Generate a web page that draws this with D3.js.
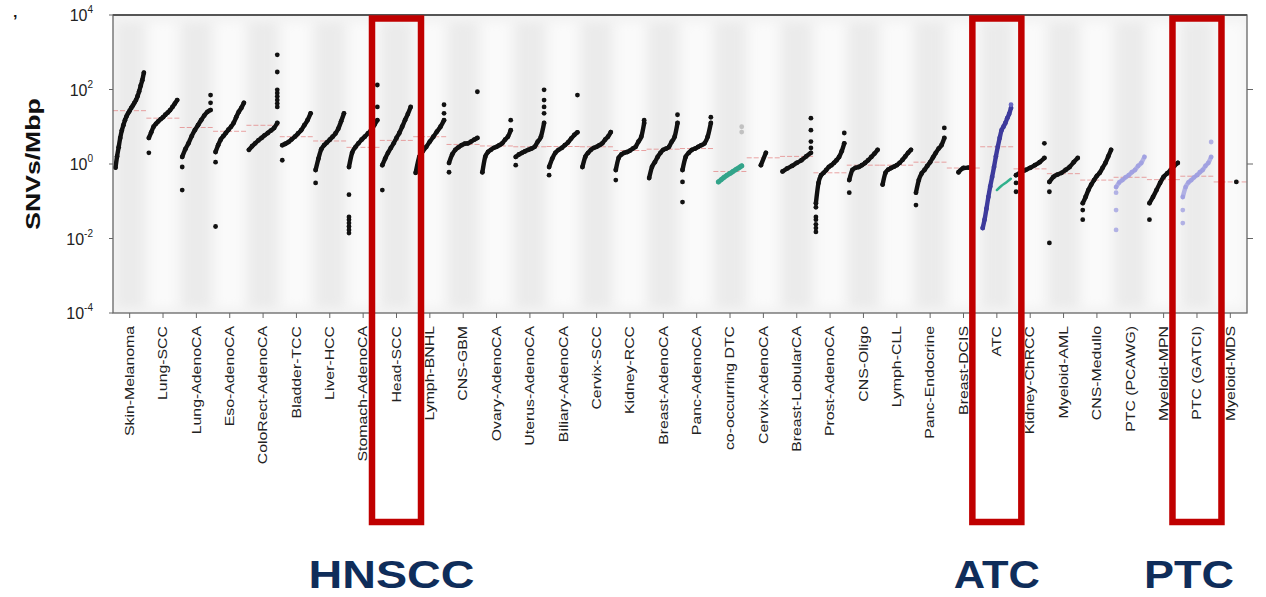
<!DOCTYPE html>
<html>
<head>
<meta charset="utf-8">
<script src="https://cdn.jsdelivr.net/npm/d3@7/dist/d3.min.js"></script>
<style>
  html, body { margin: 0; padding: 0; background: #ffffff; }
  svg { display: block; }
</style>
</head>
<body>
<svg id="chart" width="1266" height="597"></svg>
<script>
// Tumour types along the x axis
const categories = [
  "Skin-Melanoma", "Lung-SCC", "Lung-AdenoCA", "Eso-AdenoCA", "ColoRect-AdenoCA",
  "Bladder-TCC", "Liver-HCC", "Stomach-AdenoCA", "Head-SCC", "Lymph-BNHL",
  "CNS-GBM", "Ovary-AdenoCA", "Uterus-AdenoCA", "Biliary-AdenoCA", "Cervix-SCC",
  "Kidney-RCC", "Breast-AdenoCA", "Panc-AdenoCA", "co-occurring DTC", "Cervix-AdenoCA",
  "Breast-LobularCA", "Prost-AdenoCA", "CNS-Oligo", "Lymph-CLL", "Panc-Endocrine",
  "Breast-DCIS", "ATC", "Kidney-ChRCC", "Myeloid-AML", "CNS-Medullo",
  "PTC (PCAWG)", "Myeloid-MPN", "PTC (GATCI)", "Myeloid-MDS"
];

// Sorted per-sample SNV burden (SNVs/Mbp), the main run of each tumour type
const curveValues = [
  [0.8, 1.6, 2.8, 5.0, 7.9, 11, 15, 19, 23, 27, 32, 37, 44, 52, 66, 89, 126, 178, 282],
  [5.0, 7.1, 10, 12, 14, 16, 18, 21, 24, 28, 34, 42, 52],
  [1.55, 2.5, 3.6, 5.6, 8.1, 11, 15, 20, 25, 28],
  [2.1, 3.2, 4.5, 5.6, 6.8, 8.3, 10, 12.6, 18, 25, 32, 44],
  [2.4, 3.0, 3.6, 4.3, 5.0, 5.9, 6.8, 7.9, 9.3, 12.6],
  [3.2, 3.5, 3.9, 4.6, 5.4, 6.6, 8.1, 11, 15, 23],
  [0.69, 1.4, 2.5, 3.2, 3.8, 4.5, 5.4, 6.6, 8.9, 14, 23],
  [0.83, 2.0, 2.8, 3.6, 4.5, 5.4, 6.6, 8.1, 11, 15],
  [0.93, 1.4, 2.0, 2.7, 3.6, 5.0, 6.8, 10, 15, 22, 34],
  [0.58, 1.55, 2.2, 2.9, 4.0, 5.4, 7.4, 10, 15],
  [1.07, 1.8, 2.4, 2.8, 3.2, 3.5, 3.6, 4.0, 4.5, 5.0],
  [0.6, 1.55, 2.1, 2.4, 2.7, 2.9, 3.2, 3.6, 4.5, 5.4, 8.1],
  [1.55, 1.8, 2.0, 2.2, 2.4, 2.6, 2.9, 4.0, 5.4, 12.6],
  [0.83, 1.4, 2.0, 2.4, 2.7, 3.2, 3.8, 4.8, 6.0, 7.1],
  [0.83, 1.55, 2.0, 2.4, 2.7, 2.9, 3.2, 3.6, 4.5, 5.4, 7.2],
  [0.69, 1.45, 1.8, 2.0, 2.1, 2.3, 2.6, 2.9, 4.0, 5.4, 12.6],
  [0.42, 0.83, 1.12, 1.55, 2.0, 2.4, 2.6, 2.9, 4.0, 5.4, 12.6],
  [0.69, 1.55, 2.0, 2.4, 2.6, 2.9, 3.2, 3.6, 5.4, 12.6],
  [0.33, 0.38, 0.44, 0.5, 0.56, 0.63, 0.71, 0.79, 0.89],
  [0.93, 2.0],
  [0.63, 0.76, 0.89, 1.07, 1.26, 1.6, 2.0],
  [0.089, 0.31, 0.5, 0.58, 0.69, 0.83, 0.93, 1.07, 1.26, 1.55, 2.2, 3.6],
  [0.37, 0.69, 0.79, 0.83, 0.93, 1.07, 1.26, 1.55, 1.9, 2.4],
  [0.28, 0.58, 0.71, 0.78, 0.85, 0.93, 1.07, 1.29, 1.6, 2.0, 2.4],
  [0.17, 0.37, 0.56, 0.69, 0.89, 1.12, 1.5, 2.0, 2.6, 3.2, 5.0],
  [0.6, 0.78, 0.8],
  [0.019, 0.032, 0.063, 0.13, 0.25, 0.45, 0.83, 1.6, 2.9, 5.0, 8.1, 10, 12.6, 17, 22, 32],
  [0.5, 0.6, 0.69, 0.79, 0.93, 1.12, 1.45],
  [0.33, 0.45, 0.52, 0.58, 0.69, 0.83, 1.12, 1.45],
  [0.089, 0.13, 0.2, 0.28, 0.37, 0.48, 0.58, 0.79, 1.07, 1.6, 2.4],
  [0.24, 0.32, 0.37, 0.44, 0.5, 0.6, 0.69, 0.89, 1.07, 1.55],
  [0.089, 0.13, 0.2, 0.31, 0.45, 0.56, 0.69, 0.89, 1.07],
  [0.13, 0.24, 0.32, 0.37, 0.44, 0.5, 0.6, 0.69, 0.89, 1.07, 1.55],
  [0.33]
];

// Isolated low samples, stacked under the start of each run
const lowValues = [
  [], [2.0], [0.2, 0.83], [0.021, 1.12], [], [1.26], [0.31],
  [0.014, 0.017, 0.021, 0.026, 0.032, 0.038, 0.15], [0.2], [], [0.6], [], [0.93], [0.5],
  [], [0.37], [], [0.095, 0.33], [], [], [],
  [0.015, 0.019, 0.024, 0.032, 0.038, 0.069], [0.17], [], [0.079], [], [], [0.18, 0.31],
  [0.0076, 0.18], [0.032, 0.058], [0.017, 0.058, 0.17], [0.032], [0.026, 0.058], []
];

// Isolated high samples, stacked over the end of each run
const highValues = [
  [], [], [44, 71], [], [34, 42, 52, 65, 80, 98, 295, 851], [], [],
  [34, 132], [], [23, 39], [87], [15], [23, 34, 52, 98], [71],
  [], [15], [21], [18], [7.2, 10], [], [2.7, 4.0, 8.1, 17],
  [6.8], [], [], [9.3], [], [39], [3.6],
  [], [], [], [], [3.9], []
];

// Second ATC cohort shown alongside the main ATC run
const atcSecondValues = [0.2, 0.26, 0.32, 0.4];

// Decades labelled on the y axis
const yTickExponents = [4, 2, 0, -2, -4];
const rightTickExponents = [2, 0, -2];

// Tumour types called out beneath the chart
const callouts = [
  { category: "Head-SCC", label: "HNSCC", dx: -5, width: 166 },
  { category: "ATC", label: "ATC", dx: 0, width: 86 },
  { category: "PTC (GATCI)", label: "PTC", dx: -8, width: 90 }
];

const svg = d3.select("#chart");
const plot = { left: 113, right: 1247, top: 15, bottom: 313 };

const x = d3.scaleBand().domain(categories).range([plot.left, plot.right]);
const y = d3.scaleLog().domain([1e-4, 1e4]).range([plot.bottom, plot.top]);
const bw = x.bandwidth();

const defs = svg.append("defs");
defs.append("filter").attr("id", "soft")
  .attr("x", "-20%").attr("y", "-5%").attr("width", "140%").attr("height", "110%")
  .append("feGaussianBlur").attr("stdDeviation", 5);
defs.append("clipPath").attr("id", "plotClip")
  .append("rect")
  .attr("x", plot.left).attr("y", plot.top)
  .attr("width", plot.right - plot.left).attr("height", plot.bottom - plot.top);

// Alternating column shading behind the tumour types
const bg = svg.append("g").attr("clip-path", "url(#plotClip)");
bg.append("rect")
  .attr("x", plot.left).attr("y", plot.top)
  .attr("width", plot.right - plot.left).attr("height", plot.bottom - plot.top)
  .attr("fill", "#f3f3f3");
bg.append("g").attr("filter", "url(#soft)")
  .selectAll("rect").data(categories).join("rect")
  .attr("x", d => x(d) + 4)
  .attr("y", plot.top + 8)
  .attr("width", bw - 8)
  .attr("height", plot.bottom - plot.top - 14)
  .attr("fill", (d, i) => i % 2 === 0 ? "#ebebeb" : "#fafafa");

// Colour of each tumour type's samples
function seriesColor(name) {
  if (name === "ATC") return "#3d3a9c";
  if (name.startsWith("PTC")) return "#9c9ce0";
  if (name === "co-occurring DTC") return "#33a48a";
  return "#111111";
}
function highColor(name) {
  if (name === "co-occurring DTC") return "#b5b5b5";
  if (name === "ATC") return "#6a68c4";
  return seriesColor(name);
}

// x positions of the sorted samples inside a band
function runX(name, n) {
  const b0 = x(name), c = b0 + bw / 2;
  if (n < 5) {
    const span = (n - 1) * 5;
    return d3.range(n).map(i => n === 1 ? c + 6 : c - span / 2 + (span * i) / (n - 1));
  }
  const inset = name === "co-occurring DTC" ? 5 : 2.5;
  const x0 = b0 + inset, x1 = b0 + bw - inset;
  return d3.range(n).map(i => x0 + ((x1 - x0) * i) / (n - 1));
}

const marks = svg.append("g").attr("clip-path", "url(#plotClip)");
const line = d3.line().x(d => d[0]).y(d => d[1]).curve(d3.curveMonotoneX);

// Median markers
categories.forEach((name, i) => {
  const all = lowValues[i].concat(curveValues[i], highValues[i]);
  const med = d3.median(all);
  marks.append("line")
    .attr("x1", x(name)).attr("x2", x(name) + bw)
    .attr("y1", y(med)).attr("y2", y(med))
    .attr("stroke", "#e06a6a").attr("stroke-width", 1)
    .attr("stroke-dasharray", "5,2").attr("opacity", 0.6);
});

categories.forEach((name, i) => {
  const vals = curveValues[i];
  const xs = runX(name, vals.length);
  const pts = vals.map((v, k) => [xs[k], y(v)]);
  const col = seriesColor(name);
  const g = marks.append("g");
  const alpha = name.startsWith("PTC") ? 0.75 : 1;

  if (pts.length > 1) {
    g.append("path").attr("d", line(pts))
      .attr("fill", "none").attr("stroke", col)
      .attr("stroke-width", name === "co-occurring DTC" ? 5 : 4.4)
      .attr("stroke-linecap", "round").attr("stroke-linejoin", "round")
      .attr("opacity", alpha);
  }
  g.selectAll("circle.run").data(pts).join("circle")
    .attr("class", "run")
    .attr("cx", d => d[0]).attr("cy", d => d[1]).attr("r", 2.4)
    .attr("fill", col).attr("opacity", alpha);

  g.selectAll("circle.low").data(lowValues[i]).join("circle")
    .attr("class", "low")
    .attr("cx", xs[0]).attr("cy", d => y(d)).attr("r", 2.4)
    .attr("fill", col).attr("opacity", alpha);

  g.selectAll("circle.high").data(highValues[i]).join("circle")
    .attr("class", "high")
    .attr("cx", xs[xs.length - 1]).attr("cy", d => y(d)).attr("r", 2.4)
    .attr("fill", highColor(name)).attr("opacity", name === "co-occurring DTC" ? 0.8 : alpha);
});

// Second ATC cohort
{
  const b0 = x("ATC");
  const xs = atcSecondValues.map((v, k) => b0 + bw * 0.5 + (bw * 0.42 * k) / (atcSecondValues.length - 1));
  const pts = atcSecondValues.map((v, k) => [xs[k], y(v)]);
  marks.append("path").attr("d", line(pts))
    .attr("fill", "none").attr("stroke", "#2fb08c").attr("stroke-width", 2.5)
    .attr("stroke-linecap", "round");
}

// Frame
svg.append("rect")
  .attr("x", plot.left).attr("y", plot.top)
  .attr("width", plot.right - plot.left).attr("height", plot.bottom - plot.top)
  .attr("fill", "none").attr("stroke", "#666").attr("stroke-width", 1.3);
svg.append("line")
  .attr("x1", plot.left).attr("x2", plot.right)
  .attr("y1", plot.top).attr("y2", plot.top)
  .attr("stroke", "#555").attr("stroke-width", 2);

// x axis ticks and rotated tumour-type labels
const xAxis = svg.append("g");
xAxis.selectAll("line").data(categories).join("line")
  .attr("x1", d => x(d) + bw / 2).attr("x2", d => x(d) + bw / 2)
  .attr("y1", plot.bottom).attr("y2", plot.bottom + 5)
  .attr("stroke", "#666").attr("stroke-width", 1);
xAxis.selectAll("text").data(categories).join("text")
  .attr("transform", d => `translate(${x(d) + bw / 2},${plot.bottom + 13}) rotate(-90) scale(1.32,1)`)
  .attr("text-anchor", "end")
  .attr("dominant-baseline", "central")
  .attr("font-family", "'Liberation Sans', Arial, sans-serif")
  .attr("font-size", 12)
  .attr("fill", "#222")
  .text(d => d);

// y axis: decades with superscript exponents
const yAxis = svg.append("g");
yAxis.selectAll("line").data(yTickExponents).join("line")
  .attr("x1", plot.left - 4).attr("x2", plot.left)
  .attr("y1", e => y(Math.pow(10, e))).attr("y2", e => y(Math.pow(10, e)))
  .attr("stroke", "#666");
const yLab = yAxis.selectAll("text").data(yTickExponents).join("text")
  .attr("x", 93).attr("y", e => y(Math.pow(10, e)) + 6)
  .attr("text-anchor", "end")
  .attr("font-family", "'Liberation Sans', Arial, sans-serif")
  .attr("font-size", 16)
  .attr("fill", "#222");
yLab.append("tspan").text("10");
yLab.append("tspan").attr("dy", -8).attr("font-size", 10).text(e => String(e));

svg.append("g").selectAll("line").data(rightTickExponents).join("line")
  .attr("x1", plot.right).attr("x2", plot.right + 6)
  .attr("y1", e => y(Math.pow(10, e))).attr("y2", e => y(Math.pow(10, e)))
  .attr("stroke", "#666");

// y axis title
svg.append("text")
  .attr("transform", `translate(33,${(plot.top + plot.bottom) / 2}) rotate(-90) scale(1.33,1)`)
  .attr("text-anchor", "middle")
  .attr("dominant-baseline", "central")
  .attr("font-family", "'Liberation Sans', Arial, sans-serif")
  .attr("font-weight", "bold")
  .attr("font-size", 20)
  .attr("fill", "#111")
  .text("SNVs/Mbp");

svg.append("text")
  .attr("x", 13).attr("y", 27)
  .attr("font-family", "'Liberation Sans', Arial, sans-serif")
  .attr("font-weight", "bold").attr("font-size", 16).attr("fill", "#111")
  .text("’");

// Highlight boxes and call-out names
const boxPad = 24.5;
const ann = svg.append("g");
callouts.forEach(c => {
  const cx = x(c.category) + bw / 2;
  ann.append("rect")
    .attr("x", cx - boxPad).attr("y", 18.5)
    .attr("width", boxPad * 2).attr("height", 522 - 18.5)
    .attr("fill", "none").attr("stroke", "#c00000").attr("stroke-width", 6.5);
  ann.append("text")
    .attr("x", cx + c.dx).attr("y", 588)
    .attr("text-anchor", "middle")
    .attr("font-family", "'Liberation Sans', Arial, sans-serif")
    .attr("font-weight", "bold").attr("font-size", 38)
    .attr("fill", "#0f2d5a")
    .attr("textLength", c.width).attr("lengthAdjust", "spacingAndGlyphs")
    .text(c.label);
});
</script>
</body>
</html>
